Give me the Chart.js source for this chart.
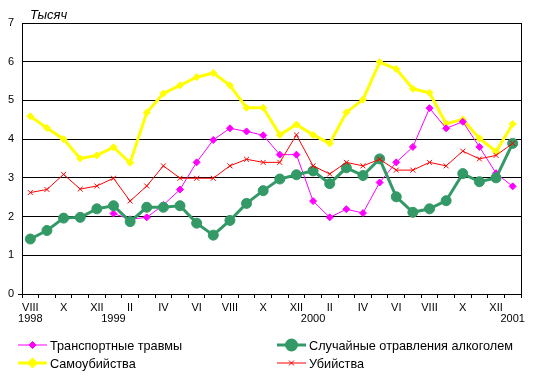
<!DOCTYPE html>
<html>
<head>
<meta charset="utf-8">
<script src="https://cdn.jsdelivr.net/npm/chart.js@4"></script>
<style>
  body { margin: 0; background: #fff; }
  canvas { display: block; }
</style>
</head>
<body>
<canvas id="chart" width="535" height="377"></canvas>
<script>
// Aug 1998 .. Jan 2001, one point a month
const tickMonths = ['VIII','','X','','XII','','II','','IV','','VI','','VIII','','X','','XII','','II','','IV','','VI','','VIII','','X','','XII',''];
const tickYears  = ['1998','','','','','1999','','','','','','','','','','','','2000','','','','','','','','','','','','2001'];

const transport = [null,null,null,null,null,2.08,1.93,1.98,2.3,2.7,3.4,3.98,4.28,4.2,4.1,3.6,3.6,2.4,1.98,2.19,2.09,2.88,3.4,3.8,4.8,4.28,4.45,3.8,3.12,2.78];
const alcohol   = [1.42,1.64,1.96,1.98,2.2,2.28,1.87,2.24,2.24,2.28,1.83,1.52,1.9,2.34,2.67,2.97,3.08,3.18,2.85,3.26,3.06,3.49,2.51,2.11,2.2,2.41,3.11,2.9,3.0,3.89];
const suicide   = [4.59,4.29,4.0,3.5,3.58,3.79,3.39,4.69,5.18,5.39,5.6,5.71,5.39,4.81,4.81,4.11,4.38,4.11,3.89,4.69,5.02,5.99,5.81,5.3,5.2,4.4,4.51,4.02,3.68,4.39];
const murder    = [2.62,2.7,3.09,2.71,2.79,2.99,2.4,2.79,3.31,2.99,2.99,2.99,3.31,3.48,3.4,3.4,4.11,3.31,3.1,3.4,3.31,3.48,3.2,3.2,3.4,3.31,3.69,3.49,3.58,3.89];

const labels = tickMonths.map((m, i) => [m, tickYears[i]]);

const font = 'Liberation Sans';

// legend laid out in two columns like the original
const legendPos = [
  { ds: 2, x: 18, y: 345 },
  { ds: 1, x: 277, y: 345 },
  { ds: 3, x: 18, y: 363 },
  { ds: 0, x: 277, y: 363 }
];

const extras = {
  id: 'extras',
  beforeDatasetsDraw(chart) {
    const { ctx, chartArea: a } = chart;
    ctx.save();
    ctx.strokeStyle = '#000';
    ctx.lineWidth = 1;
    ctx.beginPath();
    ctx.moveTo(Math.round(a.right) + 0.5, a.top);
    ctx.lineTo(Math.round(a.right) + 0.5, a.bottom);
    ctx.moveTo(a.left - 4, Math.round(a.bottom) + 0.5);
    ctx.lineTo(a.left, Math.round(a.bottom) + 0.5);
    ctx.stroke();
    ctx.restore();
  },
  afterDraw(chart) {
    const { ctx } = chart;
    ctx.save();
    ctx.fillStyle = '#000';
    ctx.font = 'italic 13px ' + font;
    ctx.textBaseline = 'alphabetic';
    ctx.fillText('Тысяч', 30, 19);

    ctx.font = '12.7px ' + font;
    ctx.textBaseline = 'middle';
    legendPos.forEach(p => {
      const d = chart.data.datasets[p.ds];
      ctx.strokeStyle = d.borderColor;
      ctx.lineWidth = d.borderWidth;
      ctx.beginPath();
      ctx.moveTo(p.x, p.y);
      ctx.lineTo(p.x + 29, p.y);
      ctx.stroke();
      ctx.fillStyle = d.pointBackgroundColor;
      ctx.strokeStyle = d.pointBorderColor;
      Chart.helpers.drawPoint(ctx, {
        pointStyle: d.pointStyle, radius: d.pointRadius, borderWidth: d.pointBorderWidth, rotation: 0
      }, p.x + 14.5, p.y);
      ctx.fillStyle = '#000';
      ctx.fillText(d.label, p.x + 32, p.y + 1);
    });
    ctx.restore();
  }
};

new Chart(document.getElementById('chart'), {
  type: 'line',
  data: {
    labels: labels,
    datasets: [{
      label: 'Убийства',
      data: murder,
      borderColor: '#ff0000',
      borderWidth: 1,
      pointStyle: 'crossRot',
      pointRadius: 3.5,
      pointBorderWidth: 1,
      pointBorderColor: '#ff0000',
      pointBackgroundColor: '#ff0000'
    }, {
      label: 'Случайные отравления алкоголем',
      data: alcohol,
      borderColor: '#339966',
      borderWidth: 3,
      pointStyle: 'circle',
      pointRadius: 5,
      pointBorderWidth: 1,
      pointBorderColor: '#339966',
      pointBackgroundColor: '#339966'
    }, {
      label: 'Транспортные травмы',
      data: transport,
      borderColor: '#ff00ff',
      borderWidth: 1,
      pointStyle: 'rectRot',
      pointRadius: 3.5,
      pointBorderWidth: 1,
      pointBorderColor: '#ff00ff',
      pointBackgroundColor: '#ff00ff'
    }, {
      label: 'Самоубийства',
      data: suicide,
      borderColor: '#ffff00',
      borderWidth: 3,
      pointStyle: 'rectRot',
      pointRadius: 3.5,
      pointBorderWidth: 1,
      pointBorderColor: '#ffff00',
      pointBackgroundColor: '#ffff00'
    }]
  },
  options: {
    responsive: false,
    animation: false,
    devicePixelRatio: 1,
    layout: { padding: { left: 0, right: 14, top: 23, bottom: 53 } },
    plugins: {
      legend: { display: false },
      tooltip: { enabled: false }
    },
    elements: { line: { tension: 0 } },
    scales: {
      x: {
        offset: true,
        afterFit: s => { s.height = 30; },
        grid: { offset: true, drawOnChartArea: false, drawTicks: true, tickLength: 4, color: '#000' },
        border: { display: true, color: '#000' },
        ticks: {
          autoSkip: false, maxRotation: 0, minRotation: 0, padding: 4,
          color: '#000', font: { family: font, size: 11, lineHeight: 1.0 }
        }
      },
      y: {
        min: 0, max: 7,
        afterFit: s => { s.width = 22; },
        grid: { color: '#000', drawTicks: false, lineWidth: 1 },
        border: { display: true, color: '#000' },
        ticks: {
          stepSize: 1, padding: 8,
          color: '#000', font: { family: font, size: 11 }
        }
      }
    }
  },
  plugins: [extras]
});
</script>
</body>
</html>
